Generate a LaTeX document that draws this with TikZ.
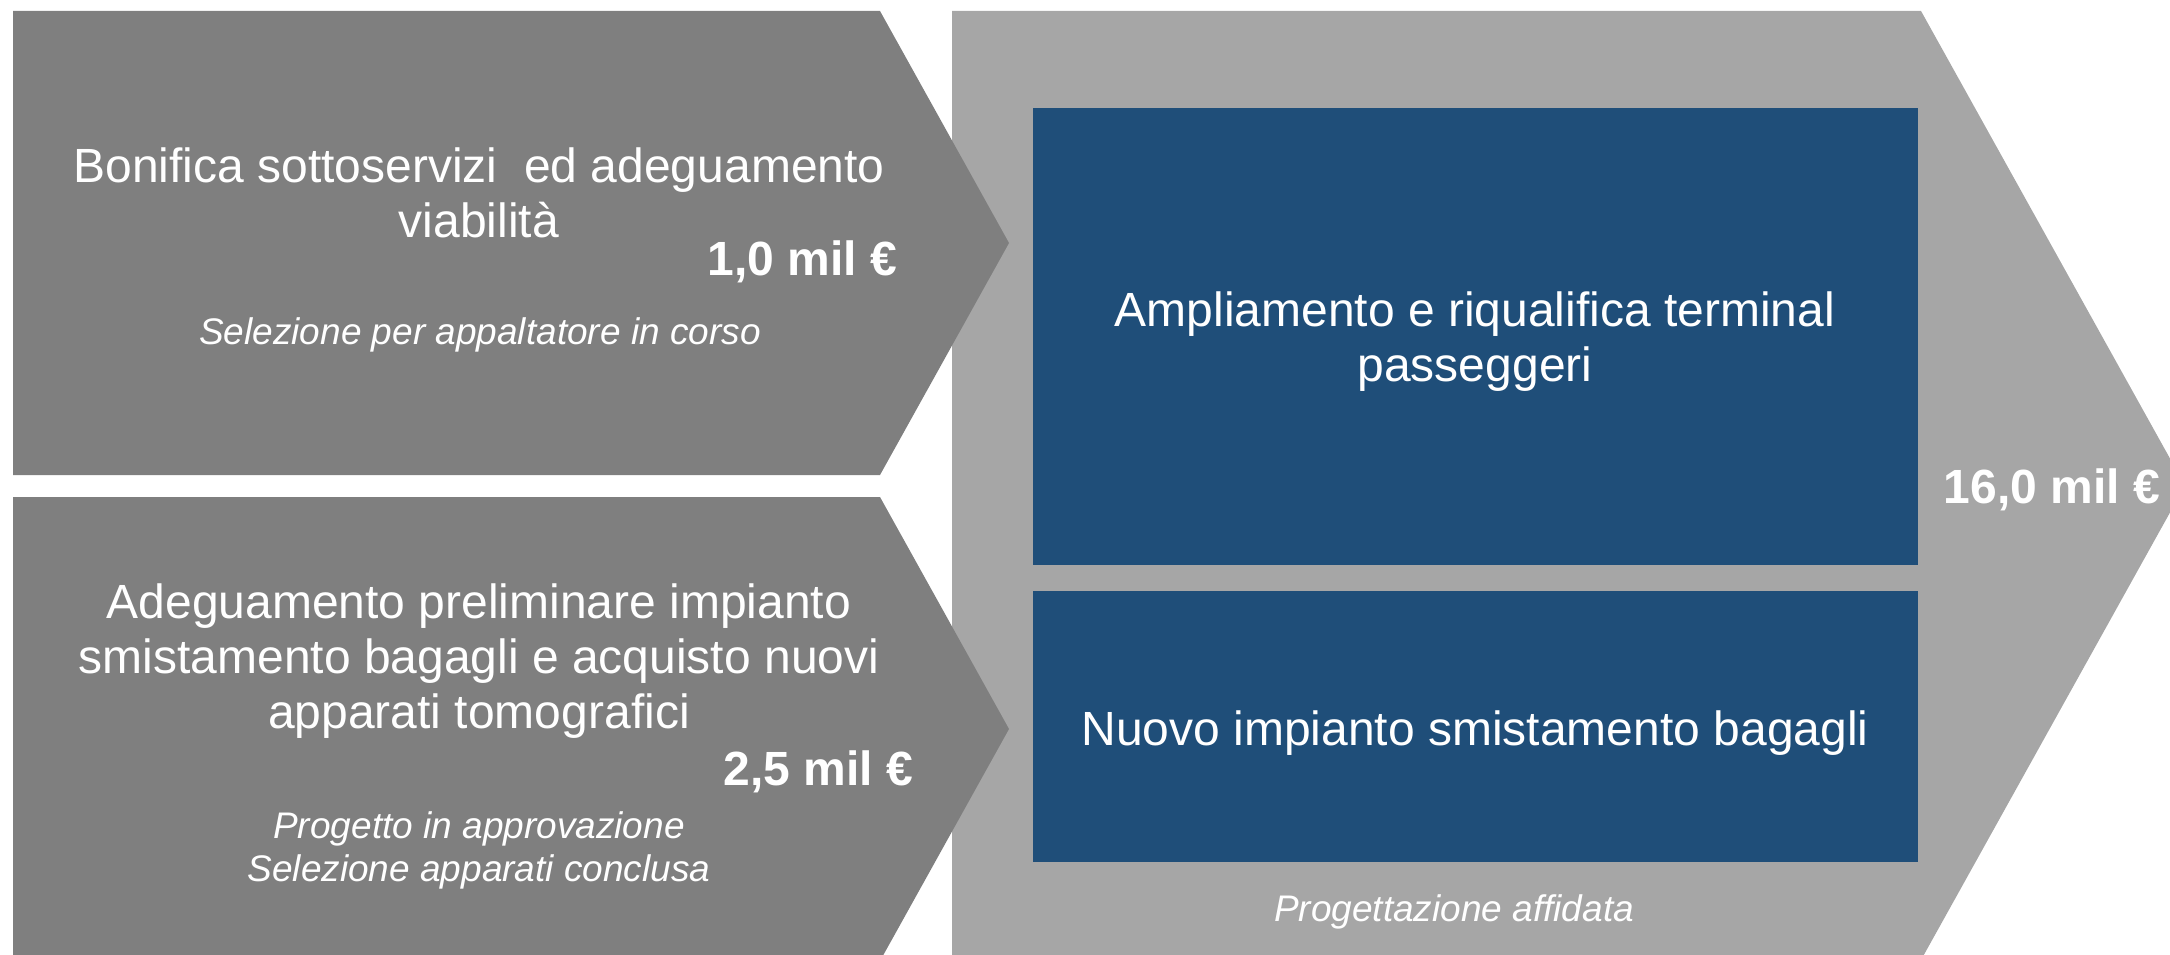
\documentclass[tikz,border=0pt]{standalone}
\usepackage{fontspec}
\setmainfont{Liberation Sans}
\definecolor{darkgr}{HTML}{7F7F7F}
\definecolor{lightgr}{HTML}{A6A6A6}
\definecolor{navybox}{HTML}{1F4E79}
\tikzset{
  bigtxt/.style={text=white, inner sep=0pt, align=center, font=\fontsize{48}{55}\selectfont},
  costtxt/.style={text=white, inner sep=0pt, font=\fontsize{48}{55}\selectfont\bfseries},
  notetxt/.style={text=white, inner sep=0pt, align=center, font=\fontsize{37}{43}\selectfont\itshape},
  chev/.style={fill=darkgr},
  bigchev/.style={fill=lightgr},
  bluebox/.style={fill=navybox}
}
\begin{document}
\begin{tikzpicture}[x=1pt,y=-1pt]
\useasboundingbox (0,0) rectangle (2170,955);
\clip (0,0) rectangle (2170,955);
% big chevron (behind)
\fill[bigchev] (952,11) -- (1921,11) -- (2185,485.5) -- (1921,960) -- (952,960) -- cycle;
% small chevrons (on top)
\fill[chev] (13,11) -- (880,11) -- (1009,243) -- (880,475) -- (13,475) -- cycle;
\fill[chev] (13,497) -- (880,497) -- (1009,729) -- (880,961) -- (13,961) -- cycle;
% blue boxes
\node[bluebox, inner sep=0pt, minimum width=885pt, minimum height=457pt] (boxA) at (1475.5,336.5) {};
\node[bluebox, inner sep=0pt, minimum width=885pt, minimum height=271pt] (boxB) at (1475.5,726.5) {};
% texts chevron 1
\node[bigtxt] (t1) at (479,198.5) {\strut Bonifica sottoservizi~ ed adeguamento\\ viabilità\strut};
\node[costtxt, anchor=base east] (c1) at (897,275) {1,0 mil €};
\node[notetxt, anchor=base] (n1) at (480,344) {Selezione per appaltatore in corso};
% texts chevron 2
\node[bigtxt] (t2) at (479,662) {\strut Adeguamento preliminare impianto\\ smistamento bagagli e acquisto nuovi\\ apparati tomografici\strut};
\node[costtxt, anchor=base east] (c2) at (913,785) {2,5 mil €};
\node[notetxt] (n2) at (479,851) {\strut Progetto in approvazione\\ Selezione apparati conclusa\strut};
% big chevron texts
\node[bigtxt] (t3) at (1475,343) {\strut Ampliamento e riqualifica terminal\\ passeggeri\strut};
\node[bigtxt, anchor=base] (t4) at (1475,745) {Nuovo impianto smistamento bagagli};
\node[costtxt, anchor=base east] (c3) at (2160,503) {16,0 mil €};
\node[notetxt, anchor=base] (n3) at (1454,921) {Progettazione affidata};
\end{tikzpicture}
\end{document}
